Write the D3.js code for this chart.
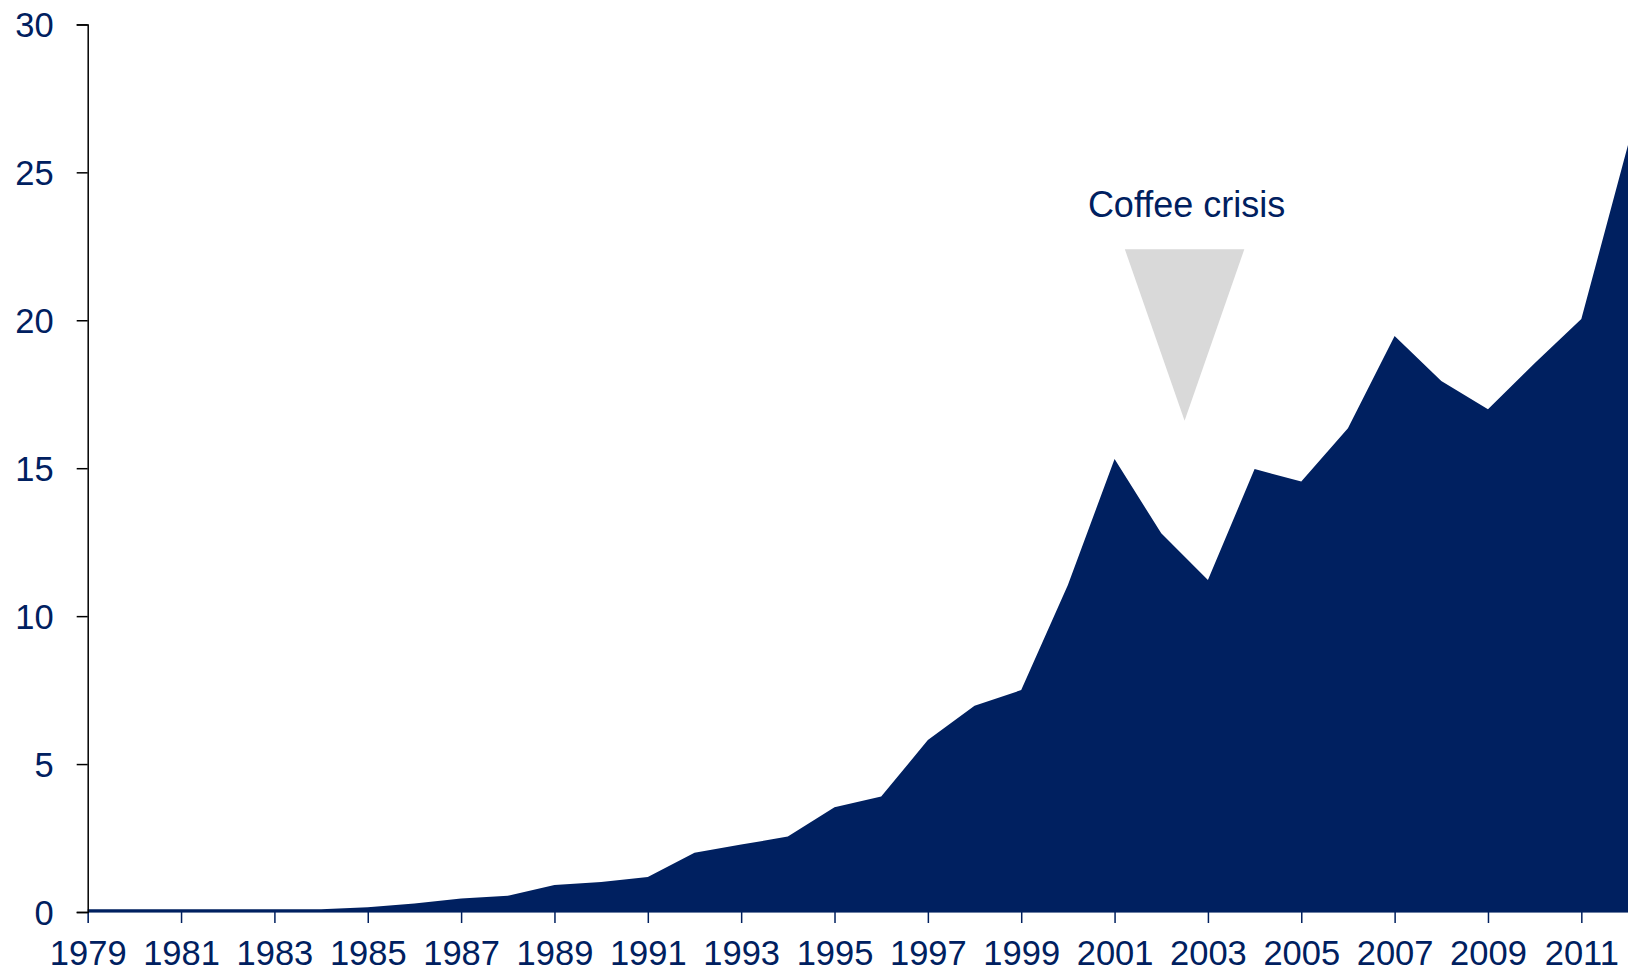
<!DOCTYPE html>
<html>
<head>
<meta charset="utf-8">
<script src="https://cdn.jsdelivr.net/npm/d3@7"></script>
<style>
  html, body { margin: 0; padding: 0; background: #ffffff; }
  svg { display: block; }
  text { font-family: "Liberation Sans", Arial, sans-serif; }
</style>
</head>
<body>
<svg id="chart" width="1628" height="973"></svg>
<script>
// ---- Data ----
const years = [1979,1980,1981,1982,1983,1984,1985,1986,1987,1988,1989,1990,1991,1992,1993,1994,1995,1996,1997,1998,1999,2000,2001,2002,2003,2004,2005,2006,2007,2008,2009,2010,2011,2012];
const values = [0.09,0.09,0.09,0.09,0.09,0.09,0.16,0.29,0.46,0.55,0.91,1.01,1.18,2.0,2.28,2.55,3.54,3.9,5.81,6.97,7.5,11.05,15.31,12.8,11.22,14.97,14.55,16.35,19.47,17.95,16.99,18.55,20.04,25.92];
const xTickYears = [1979,1981,1983,1985,1987,1989,1991,1993,1995,1997,1999,2001,2003,2005,2007,2009,2011];
const yTicks = [0,5,10,15,20,25,30];
const annotationLabel = "Coffee crisis";
// annotation anchor in data units: tip year/value, top value, half-width in years, label value
const annotationTip = [2002.5, 16.6];
const annotationTopValue = 22.4;
const annotationHalfWidth = 1.28;
const annotationLabelValue = 23.5;

// ---- Layout ----
const W = 1628, H = 973;
const margin = {left: 87.7, right: 0, top: 24.4, bottom: 61};
const navy = "#002060";

const svg = d3.select("#chart");
const x = d3.scaleLinear().domain([1979, 2012]).range([margin.left, W - margin.right]);
const y = d3.scaleLinear().domain([0, 30]).range([H - margin.bottom, margin.top]);

const data = years.map((yr, i) => ({year: yr, value: values[i]}));

// Area
const area = d3.area()
  .x(d => x(d.year))
  .y0(y(0))
  .y1(d => y(d.value));
svg.append("path")
  .datum(data)
  .attr("d", area)
  .attr("fill", navy);

// X axis
const xAxis = d3.axisBottom(x)
  .tickValues(xTickYears)
  .tickFormat(d3.format("d"))
  .tickSize(11)
  .tickPadding(18);
const gx = svg.append("g")
  .attr("transform", `translate(0,${y(0)})`)
  .call(xAxis);
gx.select(".domain").attr("stroke", "#6d7fa3").attr("stroke-width", 1);
gx.selectAll(".tick line").attr("stroke", navy).attr("stroke-width", 1.5);
gx.selectAll(".tick text")
  .attr("fill", navy)
  .style("font-size", "34.5px")
  .attr("dy", "0.71em");

// Y axis
const yAxis = d3.axisLeft(y)
  .tickValues(yTicks)
  .tickSize(11)
  .tickPadding(23);
const gy = svg.append("g")
  .attr("transform", `translate(${x(1979)},0)`)
  .call(yAxis);
gy.select(".domain").attr("stroke", "#000").attr("stroke-width", 1.5);
gy.selectAll(".tick line").attr("stroke", "#000").attr("stroke-width", 1.5);
gy.selectAll(".tick text")
  .attr("fill", navy)
  .style("font-size", "34.5px")
  .attr("dy", "0.35em");

// Annotation triangle
const tri = [
  [x(annotationTip[0] - annotationHalfWidth), y(annotationTopValue)],
  [x(annotationTip[0] + annotationHalfWidth), y(annotationTopValue)],
  [x(annotationTip[0]), y(annotationTip[1])]
];
svg.append("path")
  .attr("d", d3.line()(tri) + "Z")
  .attr("fill", "#d9d9d9");

svg.append("text")
  .attr("x", x(annotationTip[0]) + 2)
  .attr("y", y(annotationLabelValue))
  .attr("text-anchor", "middle")
  .attr("fill", navy)
  .style("font-size", "36px")
  .text(annotationLabel);
</script>
</body>
</html>
